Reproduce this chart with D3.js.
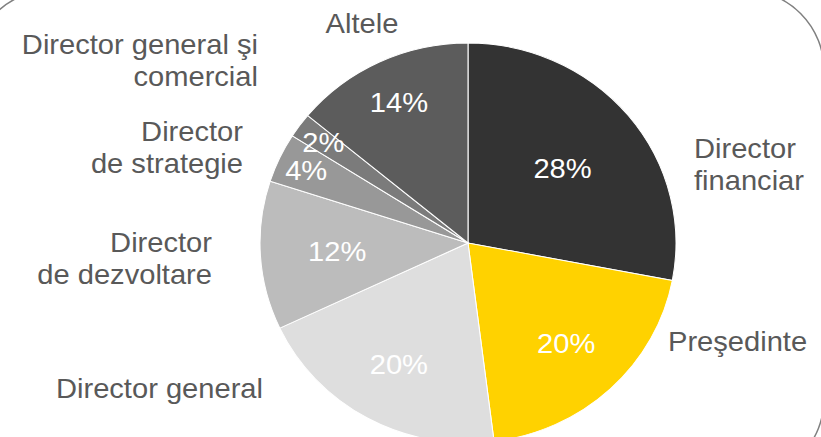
<!DOCTYPE html>
<html lang="ro">
<head>
  <meta charset="utf-8">
  <title>Pie chart</title>
  <script src="https://d3js.org/d3.v7.min.js"></script>
  <style>
    body { margin: 0; background: #fff; }
    svg { display: block; font-family: "Liberation Sans", Arial, sans-serif; }
  </style>
</head>
<body>
<svg id="chart" width="821" height="437"></svg>
<script>
  // Date
  const categories = ["Director financiar", "Preşedinte", "Director general",
    "Director de dezvoltare", "Director de strategie", "Director general şi comercial", "Altele"];
  const values = [28, 20, 20, 12, 4, 2, 14];
  const colors = ["#333333", "#ffd200", "#dedede", "#bcbcbc", "#989898", "#7b7b7b", "#5c5c5c"];

  // Etichete exterioare (randuri de text)
  const outerLines = [
    ["Director", "financiar"],
    ["Preşedinte"],
    ["Director general"],
    ["Director", "de dezvoltare"],
    ["Director", "de strategie"],
    ["Director general şi", "comercial"],
    ["Altele"]
  ];

  // Pozitii etichete exterioare
  const outerPos = [
    { x: 694, y: 158, anchor: "start" },
    { x: 668, y: 351, anchor: "start" },
    { x: 263, y: 398, anchor: "end" },
    { x: 212, y: 252, anchor: "end" },
    { x: 243, y: 141, anchor: "end" },
    { x: 258, y: 54, anchor: "end" },
    { x: 362, y: 33, anchor: "middle" }
  ];
  // distanta etichetei procentuale (fractie din raza)
  const innerRad = [0.59, 0.69, 0.69, 0.63, 0.86, 0.86, 0.78];

  const cx = 468, cy = 243, radius = 200, stretch = 1.04;
  const svg = d3.select("#chart");

  // Chenar rotunjit
  svg.append("rect")
    .attr("x", -28).attr("y", -10)
    .attr("width", 852).attr("height", 489)
    .attr("rx", 80).attr("ry", 80)
    .attr("fill", "none")
    .attr("stroke", "#808080")
    .attr("stroke-width", 1.5);

  const g = svg.append("g").attr("transform", `translate(${cx},${cy}) scale(${stretch},1)`);

  const pie = d3.pie().sort(null).value(d => d.value);
  const arc = d3.arc().innerRadius(0).outerRadius(radius);
  const data = categories.map((c, i) => ({ name: c, value: values[i], i: i }));
  const arcs = pie(data);

  g.selectAll("path.slice")
    .data(arcs)
    .enter()
    .append("path")
    .attr("class", "slice")
    .attr("d", arc)
    .attr("fill", d => colors[d.data.i])
    .attr("stroke", "#fff")
    .attr("stroke-width", 1);

  // Procente in interior
  g.selectAll("text.pct")
    .data(arcs)
    .enter()
    .append("text")
    .attr("class", "pct")
    .attr("x", d => {
      const a = (d.startAngle + d.endAngle) / 2;
      return Math.sin(a) * radius * innerRad[d.data.i];
    })
    .attr("y", d => {
      const a = (d.startAngle + d.endAngle) / 2;
      return -Math.cos(a) * radius * innerRad[d.data.i];
    })
    .attr("text-anchor", "middle")
    .attr("dy", "0.35em")
    .attr("fill", "#fff")
    .attr("font-size", 28)
    .text(d => d.data.value + "%");

  // Etichete exterioare
  outerLines.forEach((lines, i) => {
    const p = outerPos[i];
    const t = svg.append("text")
      .attr("transform", `translate(${p.x},${p.y}) scale(${stretch},1)`)
      .attr("text-anchor", p.anchor)
      .attr("fill", "#595959")
      .attr("font-size", 28);
    lines.forEach((ln, k) => {
      t.append("tspan")
        .attr("x", 0)
        .attr("dy", k === 0 ? 0 : 32)
        .text(ln);
    });
  });
</script>
</body>
</html>
